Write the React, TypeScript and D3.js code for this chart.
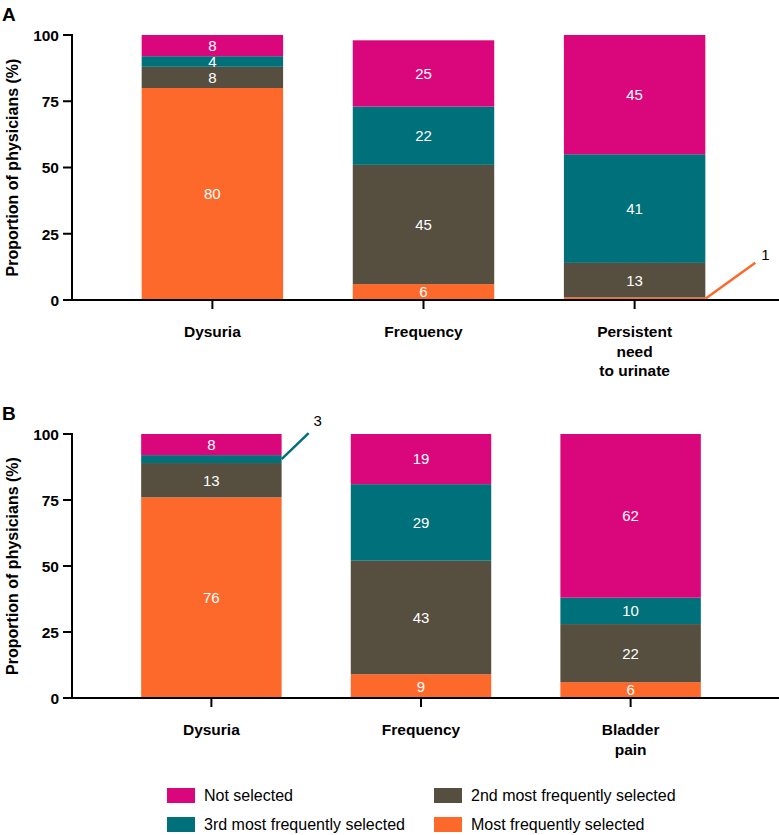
import React from "react";
import * as d3 from "d3";

const seriesKeys = ["most", "second", "third", "not"];
const seriesLabels = [
  "Most frequently selected",
  "2nd most frequently selected",
  "3rd most frequently selected",
  "Not selected",
];
const seriesColors = ["#FD682B", "#564F3F", "#00707A", "#D9077B"];

const categoriesA = ["Dysuria", "Frequency", "Persistent\nneed\nto urinate"];
const mostA = [80, 6, 1];
const secondA = [8, 45, 13];
const thirdA = [4, 22, 41];
const notA = [8, 25, 45];

const categoriesB = ["Dysuria", "Frequency", "Bladder\npain"];
const mostB = [76, 9, 6];
const secondB = [13, 43, 22];
const thirdB = [3, 29, 10];
const notB = [8, 19, 62];

const yTicks = [0, 25, 50, 75, 100];

// callouts for small segments: [category index, series index, dx, dy, labelDx, labelDy]
const calloutsA = [[2, 0, 50, -36, 10, -8]];
const calloutsB = [[0, 2, 27, -26, 9, -12]];

const FONT = "'Liberation Sans', Arial, Helvetica, sans-serif";

type PanelProps = {
  letter: string;
  categories: string[];
  series: number[][];
  callouts: number[][];
  top: number;
  bottom: number;
  xRight: number;
};

function Panel({ letter, categories, series, callouts, top, bottom, xRight }: PanelProps) {
  const axisX = 72;
  const y = d3.scaleLinear().domain([0, 100]).range([bottom, top]);
  const x = d3
    .scaleBand<string>()
    .domain(categories)
    .range([axisX, xRight])
    .paddingInner(0.33)
    .paddingOuter(0.33);
  const rows = categories.map((c, i) => {
    const r: any = { cat: c };
    seriesKeys.forEach((k, s) => (r[k] = series[s][i]));
    return r;
  });
  const stacked = d3.stack<any>().keys(seriesKeys)(rows);
  const bw = x.bandwidth();
  const midY = (top + bottom) / 2;

  return (
    <g>
      <text x={2} y={top - 14} fontFamily={FONT} fontWeight="bold" fontSize={19} fill="#000">
        {letter}
      </text>
      <text
        transform={`translate(18,${midY}) rotate(-90)`}
        textAnchor="middle"
        fontFamily={FONT}
        fontWeight="bold"
        fontSize={16}
        fill="#000"
      >
        Proportion of physicians (%)
      </text>
      {stacked.map((layer, s) =>
        layer.map((d, i) => {
          const x0 = x(categories[i])!;
          const y0 = y(d[1]);
          const h = y(d[0]) - y(d[1]);
          return (
            <rect
              key={`r${s}-${i}`}
              x={x0}
              y={y0}
              width={bw}
              height={h}
              fill={seriesColors[s]}
            />
          );
        })
      )}
      {stacked.map((layer, s) =>
        layer.map((d, i) => {
          const v = d[1] - d[0];
          const isCallout = callouts.some((c) => c[0] === i && c[1] === s);
          if (isCallout || v <= 0) return null;
          return (
            <text
              key={`t${s}-${i}`}
              x={x(categories[i])! + bw / 2}
              y={y((d[0] + d[1]) / 2)}
              dy="0.36em"
              textAnchor="middle"
              fontFamily={FONT}
              fontSize={15}
              fill="#fff"
            >
              {v}
            </text>
          );
        })
      )}
      {callouts.map((c, k) => {
        const [i, s, dx, dy, ldx, ldy] = c;
        const d = stacked[s][i];
        const ax = x(categories[i])! + bw;
        const ay = y((d[0] + d[1]) / 2);
        return (
          <g key={`c${k}`}>
            <line
              x1={ax}
              y1={ay}
              x2={ax + dx}
              y2={ay + dy}
              stroke={seriesColors[s]}
              strokeWidth={2.5}
            />
            <text
              x={ax + dx + ldx}
              y={ay + dy + ldy}
              dy="0.36em"
              textAnchor="middle"
              fontFamily={FONT}
              fontSize={15}
              fill="#000"
            >
              {d[1] - d[0]}
            </text>
          </g>
        );
      })}
      {/* y axis */}
      <line x1={axisX} x2={axisX} y1={top - 1} y2={bottom + 1} stroke="#000" strokeWidth={2} />
      {yTicks.map((t) => (
        <g key={`yt${t}`}>
          <line x1={axisX - 9} x2={axisX} y1={y(t)} y2={y(t)} stroke="#000" strokeWidth={2} />
          <text
            x={axisX - 13}
            y={y(t)}
            dy="0.38em"
            textAnchor="end"
            fontFamily={FONT}
            fontWeight="bold"
            fontSize={15.5}
            fill="#000"
          >
            {t}
          </text>
        </g>
      ))}
      {/* x axis */}
      <line x1={axisX - 1} x2={779} y1={bottom} y2={bottom} stroke="#000" strokeWidth={2} />
      {categories.map((c) => {
        const cx = x(c)! + bw / 2;
        const lines = c.split("\n");
        return (
          <g key={`xt${c}`}>
            <line x1={cx} x2={cx} y1={bottom} y2={bottom + 9} stroke="#000" strokeWidth={2} />
            <text textAnchor="middle" fontFamily={FONT} fontWeight="bold" fontSize={15.5} fill="#000">
              {lines.map((l, j) => (
                <tspan key={j} x={cx} y={bottom + 37 + j * 19.5}>
                  {l}
                </tspan>
              ))}
            </text>
          </g>
        );
      })}
    </g>
  );
}

const legendOrder = [3, 1, 2, 0];

export default function App() {
  return (
    <svg
      width={779}
      height={835}
      viewBox="0 0 779 835"
      style={{ position: "absolute", left: 0, top: 0, background: "#fff" }}
    >
      <rect x={0} y={0} width={779} height={835} fill="#fff" />
      <Panel
        letter="A"
        categories={categoriesA}
        series={[mostA, secondA, thirdA, notA]}
        callouts={calloutsA}
        top={35}
        bottom={300}
        xRight={775}
      />
      <Panel
        letter="B"
        categories={categoriesB}
        series={[mostB, secondB, thirdB, notB]}
        callouts={calloutsB}
        top={434}
        bottom={698}
        xRight={770}
      />
      {legendOrder.map((s, k) => {
        const col = k % 2;
        const row = Math.floor(k / 2);
        const lx = col === 0 ? 167 : 434;
        const ly = 788 + row * 29;
        return (
          <g key={`lg${s}`}>
            <rect x={lx} y={ly} width={28} height={15} fill={seriesColors[s]} />
            <text
              x={lx + 37}
              y={ly + 7.5}
              dy="0.36em"
              fontFamily={FONT}
              fontSize={16}
              fill="#000"
            >
              {seriesLabels[s]}
            </text>
          </g>
        );
      })}
    </svg>
  );
}
